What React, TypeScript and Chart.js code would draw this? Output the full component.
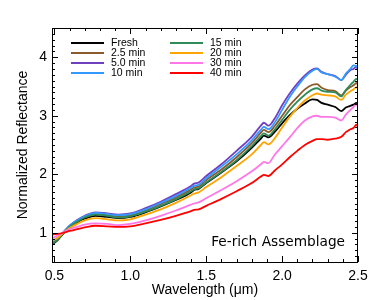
import React, { useEffect, useRef } from "react";
import { Chart, registerables } from "chart.js";

Chart.register(...registerables);

const wavelengths = [0.48, 0.52, 0.56, 0.6, 0.65, 0.7, 0.77, 0.85, 0.92, 1.0, 1.1, 1.2, 1.3, 1.4, 1.42, 1.45, 1.5, 1.6, 1.7, 1.8, 1.86, 1.88, 1.91, 1.95, 2.0, 2.05, 2.1, 2.15, 2.2, 2.23, 2.26, 2.3, 2.35, 2.39, 2.42, 2.45, 2.47, 2.49, 2.5];

const fresh = [0.79, 0.87, 0.99, 1.09, 1.18, 1.24, 1.29, 1.27, 1.25, 1.27, 1.35, 1.45, 1.56, 1.69, 1.73, 1.75, 1.85, 2.03, 2.22, 2.45, 2.61, 2.66, 2.63, 2.72, 2.87, 3.01, 3.12, 3.21, 3.28, 3.27, 3.22, 3.19, 3.15, 3.08, 3.14, 3.17, 3.19, 3.22, 3.2];
const min2_5 = [0.82, 0.89, 1.0, 1.11, 1.2, 1.27, 1.32, 1.3, 1.28, 1.3, 1.38, 1.49, 1.6, 1.74, 1.77, 1.79, 1.9, 2.08, 2.29, 2.53, 2.71, 2.76, 2.72, 2.82, 3.0, 3.18, 3.32, 3.45, 3.53, 3.54, 3.48, 3.44, 3.42, 3.35, 3.43, 3.49, 3.52, 3.56, 3.53];
const min5_0 = [0.84, 0.91, 1.01, 1.12, 1.22, 1.29, 1.35, 1.33, 1.31, 1.33, 1.42, 1.53, 1.66, 1.8, 1.84, 1.86, 1.97, 2.17, 2.4, 2.64, 2.83, 2.88, 2.83, 2.95, 3.18, 3.38, 3.55, 3.69, 3.79, 3.81, 3.75, 3.71, 3.68, 3.61, 3.7, 3.78, 3.8, 3.84, 3.78];
const min10 = [0.83, 0.9, 1.01, 1.12, 1.21, 1.28, 1.34, 1.32, 1.3, 1.32, 1.4, 1.51, 1.63, 1.77, 1.8, 1.82, 1.93, 2.13, 2.34, 2.58, 2.76, 2.81, 2.77, 2.88, 3.1, 3.32, 3.5, 3.66, 3.77, 3.8, 3.74, 3.71, 3.67, 3.61, 3.72, 3.8, 3.86, 3.85, 3.78];
const min15 = [0.81, 0.88, 1.0, 1.1, 1.19, 1.26, 1.31, 1.29, 1.26, 1.28, 1.36, 1.46, 1.57, 1.71, 1.74, 1.76, 1.86, 2.04, 2.24, 2.48, 2.65, 2.7, 2.66, 2.76, 2.93, 3.1, 3.24, 3.36, 3.45, 3.47, 3.43, 3.41, 3.4, 3.33, 3.44, 3.53, 3.58, 3.63, 3.61];
const min20 = [0.86, 0.91, 1.0, 1.08, 1.15, 1.21, 1.25, 1.23, 1.21, 1.23, 1.31, 1.4, 1.51, 1.64, 1.67, 1.69, 1.78, 1.95, 2.14, 2.34, 2.5, 2.55, 2.51, 2.61, 2.8, 2.98, 3.13, 3.26, 3.35, 3.38, 3.36, 3.35, 3.33, 3.27, 3.36, 3.42, 3.45, 3.49, 3.46];
const min30 = [0.9, 0.95, 1.01, 1.06, 1.1, 1.14, 1.16, 1.15, 1.13, 1.15, 1.21, 1.29, 1.38, 1.48, 1.5, 1.52, 1.59, 1.73, 1.88, 2.05, 2.17, 2.21, 2.19, 2.33, 2.48, 2.63, 2.79, 2.92, 2.99, 3.0, 2.98, 2.98, 2.97, 2.92, 3.02, 3.1, 3.15, 3.19, 3.18];
const min40 = [0.97, 0.98, 1.0, 1.03, 1.06, 1.09, 1.12, 1.11, 1.1, 1.11, 1.16, 1.22, 1.29, 1.37, 1.39, 1.4, 1.46, 1.58, 1.71, 1.85, 1.96, 1.99, 1.97, 2.06, 2.17, 2.29, 2.4, 2.5, 2.57, 2.6, 2.6, 2.59, 2.61, 2.64, 2.72, 2.77, 2.79, 2.85, 2.8];

const seriesLabels = ["Fresh", "2.5 min", "5.0 min", "10 min", "15 min", "20 min", "30 min", "40 min"];
const seriesValues = [fresh, min2_5, min5_0, min10, min15, min20, min30, min40];
const seriesColors = ["#000000", "#8b5a2b", "#7040c0", "#3399ff", "#2e8b57", "#ffa500", "#ff77e6", "#ff0000"];

const xTickValues = [0.5, 1.0, 1.5, 2.0, 2.5];
const yTickValues = [1, 2, 3, 4];
const annotationText = "Fe-rich Assemblage";

const FONT = "'Liberation Sans', Arial, Helvetica, sans-serif";

const framePlugin = {
  id: "frameTicks",
  afterDatasetsDraw(chart: any) {
    const { ctx, chartArea, scales } = chart;
    const { left, right, top, bottom } = chartArea;
    const xs = scales.x;
    const ys = scales.y;
    ctx.save();
    ctx.strokeStyle = "#000";
    ctx.lineWidth = 1;
    ctx.strokeRect(Math.round(left) + 0.5, Math.round(top) + 0.5, Math.round(right - left) - 1, Math.round(bottom - top));
    ctx.beginPath();
    for (let i = 0; i <= 20; i++) {
      const v = 0.5 + i * 0.1;
      const px = Math.round(xs.getPixelForValue(v)) + 0.5;
      const len = i % 5 === 0 ? 6 : 3;
      ctx.moveTo(px, bottom);
      ctx.lineTo(px, bottom - len);
      ctx.moveTo(px, top);
      ctx.lineTo(px, top + len);
    }
    for (let i = 0; i <= 40; i++) {
      const v = 0.5 + i * 0.1;
      const py = Math.round(ys.getPixelForValue(v)) + 0.5;
      const len = (i - 5) % 10 === 0 ? 6 : 3;
      ctx.moveTo(left, py);
      ctx.lineTo(left + len, py);
      ctx.moveTo(right, py);
      ctx.lineTo(right - len, py);
    }
    ctx.stroke();

    // legend
    ctx.font = `10.5px ${FONT}`;
    ctx.textBaseline = "middle";
    ctx.textAlign = "left";
    chart.data.datasets.forEach((ds: any, i: number) => {
      const col = Math.floor(i / 4);
      const row = i % 4;
      const x0 = col === 0 ? 71 : 170;
      const y = 43 + row * 10;
      ctx.strokeStyle = ds.borderColor;
      ctx.lineWidth = 2;
      ctx.beginPath();
      ctx.moveTo(x0, y);
      ctx.lineTo(x0 + 33, y);
      ctx.stroke();
      ctx.fillStyle = "#000";
      ctx.fillText(ds.label, x0 + 40, y);
    });

    // annotation
    ctx.font = "13.7px 'DejaVu Sans', sans-serif";
    ctx.textAlign = "right";
    ctx.textBaseline = "alphabetic";
    ctx.fillStyle = "#000";
    ctx.fillText(annotationText, right - 13, bottom - 16);
    ctx.restore();
  },
};

export default function App() {
  const ref = useRef<HTMLCanvasElement | null>(null);
  useEffect(() => {
    if (!ref.current) return;
    const chart = new Chart(ref.current, {
      type: "line",
      data: {
        datasets: seriesValues.map((vals, i) => ({
          label: seriesLabels[i],
          data: wavelengths.map((w, j) => ({ x: w, y: vals[j] })),
          borderColor: seriesColors[i],
          backgroundColor: seriesColors[i],
          borderWidth: 1.8,
          pointRadius: 0,
          fill: false,
          cubicInterpolationMode: "monotone" as const,
          order: seriesValues.length - i,
        })),
      },
      options: {
        responsive: false,
        animation: false,
        devicePixelRatio: 1,
        layout: { padding: { top: 28, right: 24, bottom: 0, left: 0 } },
        plugins: { legend: { display: false }, tooltip: { enabled: false } },
        scales: {
          x: {
            type: "linear",
            min: 0.484,
            max: 2.5,
            grid: { display: false, drawTicks: false, tickLength: 0 },
            border: { display: false },
            afterBuildTicks: (s: any) => {
              s.ticks = xTickValues.map((v) => ({ value: v }));
            },
            afterFit: (s: any) => {
              s.height = 38;
            },
            ticks: {
              color: "#000",
              font: { family: FONT, size: 14 },
              padding: 6,
              maxRotation: 0,
              callback: (v: any) => Number(v).toFixed(1),
            },
            title: {
              display: true,
              text: "Wavelength (μm)",
              color: "#000",
              font: { family: FONT, size: 14 },
              padding: { top: 0, bottom: 1 },
            },
          },
          y: {
            type: "linear",
            min: 0.5,
            max: 4.5,
            grid: { display: false, drawTicks: false, tickLength: 0 },
            border: { display: false },
            afterBuildTicks: (s: any) => {
              s.ticks = yTickValues.map((v) => ({ value: v }));
            },
            afterFit: (s: any) => {
              s.width = 52;
            },
            ticks: {
              color: "#000",
              font: { family: FONT, size: 14 },
              padding: 5,
              callback: (v: any) => String(v),
            },
            title: {
              display: true,
              text: "Normalized Reflectance",
              color: "#000",
              font: { family: FONT, size: 14 },
              padding: { top: 15, bottom: 0 },
            },
          },
        },
      },
      plugins: [framePlugin],
    });
    return () => chart.destroy();
  }, []);
  return (
    <div style={{ position: "absolute", left: 0, top: 0, width: 382, height: 300, background: "#fff" }}>
      <canvas ref={ref} width={382} height={300} style={{ display: "block" }} />
    </div>
  );
}
